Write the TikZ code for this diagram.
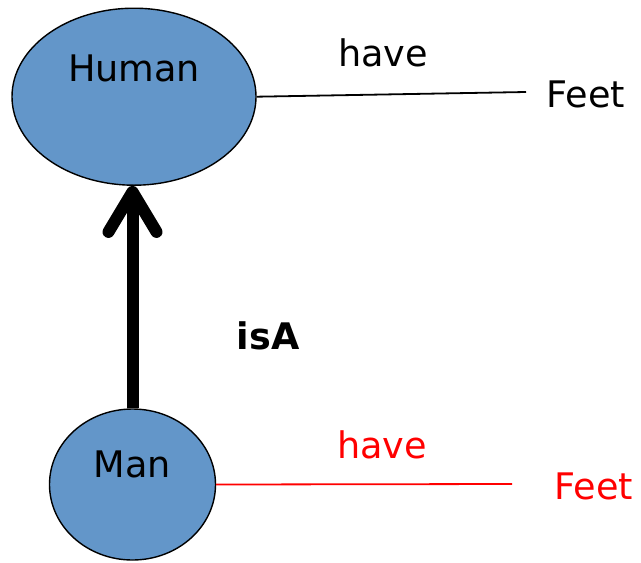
\documentclass[tikz,border=0pt]{standalone}
\usepackage{fontspec}
\setmainfont{DejaVu Sans}
\usetikzlibrary{shapes.geometric,arrows.meta}
\definecolor{nodeblue}{RGB}{99,150,201}
\definecolor{relred}{RGB}{255,0,0}
\begin{document}
\begin{tikzpicture}[x=0.5pt,y=-0.5pt,
  concept/.style={ellipse, draw=black, line width=0.7pt, fill=nodeblue, inner sep=0pt},
  lbl/.style={font=\fontsize{18.3}{22}\selectfont, inner sep=0pt},
  relline/.style={line width=0.9pt},
  isaarrow/.style={line width=6pt, -{Straight Barb[length=20pt,width=24pt,round]}}]
\useasboundingbox (0,0) rectangle (641,562);
\node[concept, minimum width=122pt, minimum height=88.5pt,
      label={[lbl, yshift=14pt]center:Human}] (human) at (134,96.7) {};
\node[concept, minimum width=83pt, minimum height=75.5pt,
      label={[lbl, yshift=10pt]center:Man}] (man) at (132.5,484.5) {};
\node[lbl] (have1) at (383,52.5) {have};
\node[lbl] (feet1) at (586,94.5) {Feet};
\coordinate (f1end) at (526,92);
\draw[relline] (human.east) -- (f1end);
\node[lbl, text=relred] (have2) at (382,445) {have};
\node[lbl, text=relred] (feet2) at (594,486) {Feet};
\coordinate (f2end) at (512,484);
\draw[relline, draw=relred] (man.east) -- (f2end);
\node[lbl, font=\fontsize{18.3}{22}\selectfont\bfseries] (isa) at (268,336) {isA};
\draw[isaarrow] (man.north) -- (man.north |- human.south);
\end{tikzpicture}
\end{document}
